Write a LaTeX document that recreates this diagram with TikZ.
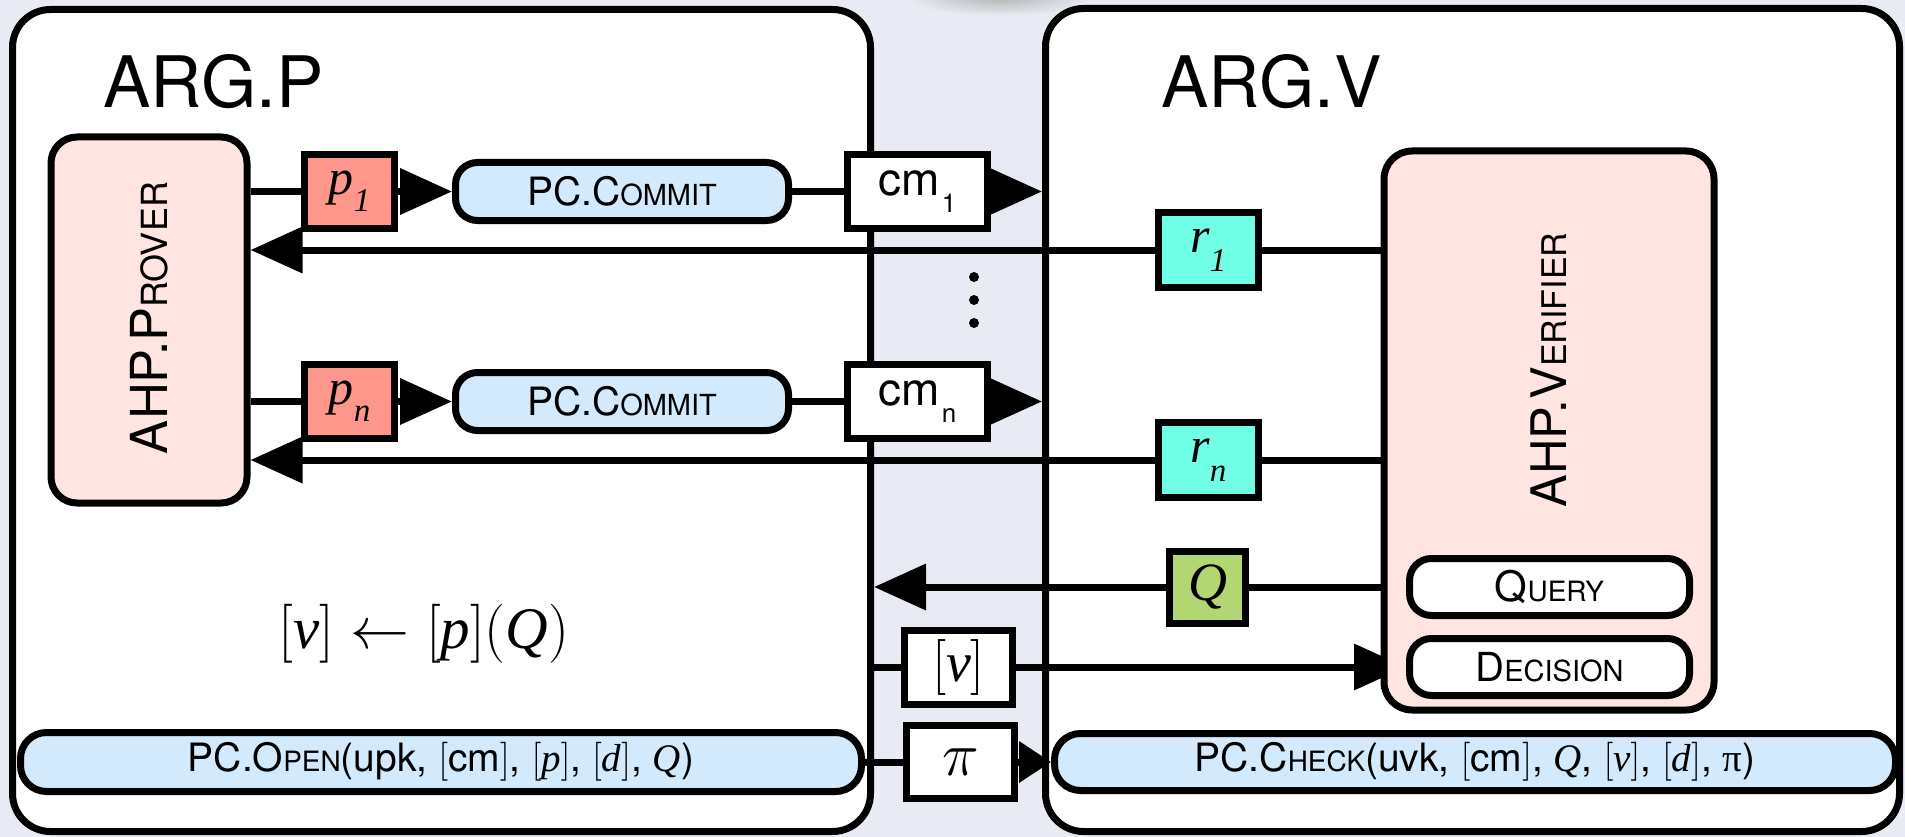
\RequirePackage{fix-cm}
\documentclass[tikz,border=0pt]{standalone}
\usepackage{fontspec}
\setmainfont{Liberation Serif}
\setsansfont{TeX Gyre Heros}
\usetikzlibrary{arrows.meta}
\pgfdeclarelayer{back}
\pgfdeclarelayer{mid}
\pgfsetlayers{back,mid,main}
\newcommand\scx[2]{{\fontsize{#1}{#1}\selectfont #2}}
\newcommand\ti[1]{{\rmfamily\itshape #1}}
\definecolor{bgc}{RGB}{232,235,243}
\definecolor{pinkc}{RGB}{255,229,226}
\definecolor{bluec}{RGB}{210,234,252}
\definecolor{salc}{RGB}{254,150,140}
\definecolor{aquac}{RGB}{112,255,230}
\definecolor{grnc}{RGB}{178,214,114}
\tikzset{
  panel/.style={draw, fill=white, line width=7pt, rounded corners=38pt, inner sep=0pt},
  box/.style={draw, line width=7pt, inner sep=0pt},
  sqbox/.style={box, minimum width=90pt, minimum height=74pt},
  wbox/.style={box, fill=white, minimum width=140pt, minimum height=74pt},
  pinkbox/.style={box, fill=pinkc, rounded corners=28pt},
  pill/.style={box, rounded corners=22pt, minimum height=58pt},
  conn/.style={line width=7pt},
  bigarr/.style={conn, -{Triangle[length=52pt,width=45pt]}},
  smallarr/.style={conn, -{Triangle[length=32pt,width=40pt]}},
  sf39/.style={font=\sffamily\fontsize{39}{39}\selectfont},
  it50/.style={font=\rmfamily\itshape\fontsize{50}{50}\selectfont},
}
\begin{document}
\begin{tikzpicture}[x=1pt,y=-1pt]
\begin{pgfonlayer}{back}
\path[use as bounding box, fill=bgc] (0,0) rectangle (1905,837);
\shade[inner color=black!30, outer color=bgc] (1000,-4) ellipse [x radius=95pt, y radius=20pt];
\node[panel, minimum width=858pt, minimum height=822pt] (lp) at (441.5,420.5) {};
\node[panel, minimum width=854pt, minimum height=823pt] (rp) at (1472.5,420) {};
\end{pgfonlayer}

\node[anchor=base west, font=\sffamily\fontsize{71}{71}\selectfont] (argp) at (100,108) {ARG.P};
\node[anchor=base west, font=\sffamily\fontsize{71}{71}\selectfont] (argv) at (1158,108) {ARG.V};

\node[pinkbox, rounded corners=26pt, minimum width=196pt, minimum height=366pt] (prov) at (149,320) {};
\node[rotate=90, font=\sffamily\fontsize{51}{51}\selectfont] (provl) at (149,318) {AHP.P\scx{36}{ROVER}};
\node[pinkbox, minimum width=330pt, minimum height=559pt] (ver) at (1549,430.5) {};
\node[rotate=90, font=\sffamily\fontsize{49}{49}\selectfont] (verl) at (1549,370) {AHP.V\scx{34}{ERIFIER}};

\node[sqbox, fill=salc, it50] (p1) at (349.5,191.5) {p\raisebox{-17pt}{\scx{33}{1}}};
\node[sqbox, fill=salc, it50] (pn) at (349.5,401.5) {p\raisebox{-17pt}{\scx{33}{n}}};
\node[pill, fill=bluec, minimum width=333pt, sf39] (c1) at (622,191.5) {PC.C\scx{29}{OMMIT}};
\node[pill, fill=bluec, minimum width=333pt, sf39] (cn) at (622,401.5) {PC.C\scx{29}{OMMIT}};
\node[wbox, font=\sffamily\fontsize{46}{46}\selectfont] (cm1) at (917.5,191.5) {cm\kern2pt\raisebox{-17pt}{\scx{26}{1}}};
\node[wbox, font=\sffamily\fontsize{46}{46}\selectfont] (cmn) at (917.5,401.5) {cm\kern2pt\raisebox{-17pt}{\scx{26}{n}}};
\node[sqbox, fill=aquac, minimum width=100pt, minimum height=75pt, it50] (r1) at (1208.5,250) {r\raisebox{-19pt}{\scx{33}{1}}};
\node[sqbox, fill=aquac, minimum width=100pt, minimum height=75pt, it50] (rn) at (1208.5,460) {r\raisebox{-19pt}{\scx{33}{n}}};
\node[sqbox, fill=grnc, minimum width=76pt, minimum height=72pt, font=\rmfamily\itshape\fontsize{54}{54}\selectfont] (q) at (1207.5,587) {Q};
\node[pill, fill=white, minimum width=280pt, minimum height=57pt, font=\sffamily\fontsize{42}{42}\selectfont] (query) at (1549.5,587) {Q\scx{28}{UERY}};
\node[pill, fill=white, minimum width=280pt, minimum height=57pt, font=\sffamily\fontsize{40}{40}\selectfont] (dec) at (1549.5,667) {D\scx{29}{ECISION}};
\node[wbox, minimum width=108pt, font=\rmfamily\fontsize{56}{56}\selectfont] (v) at (958.5,667) {$[$\ti{v}$]$};
\node[wbox, minimum width=108pt, minimum height=73pt, font=\rmfamily\fontsize{62}{62}\selectfont] (pi) at (960.5,762) {$\pi$};
\node[pill, fill=bluec, rounded corners=26pt, minimum width=841pt, minimum height=59pt, sf39] (open) at (441,762)
  {PC.O\scx{28}{PEN}(upk, $[$cm$]$, $[$\ti{p}$]$, $[$\ti{d}$]$, \ti{Q})};
\node[pill, fill=bluec, rounded corners=26pt, minimum width=841pt, minimum height=57pt, sf39] (check) at (1475,762)
  {PC.C\scx{28}{HECK}(uvk, $[$cm$]$, \ti{Q}, $[$\ti{v}$]$, $[$\ti{d}$]$, {\rmfamily π})};
\node[anchor=base, font=\rmfamily\fontsize{59}{59}\selectfont] (form) at (424,648) {$[$\ti{v}$]\leftarrow[$\ti{p}$]($\ti{Q}$)$};

\fill (974,277) circle [radius=5pt] (974,300) circle [radius=5pt] (974,323) circle [radius=5pt];

\begin{pgfonlayer}{mid}
\draw[conn] (prov.east |- p1) -- (p1.west);
\draw[bigarr] (p1.east) -- (c1.west);
\draw[conn] (c1.east) -- (cm1.west);
\draw[bigarr] (cm1.east) -- (cm1.east -| rp.west);
\draw[conn] (prov.east |- pn) -- (pn.west);
\draw[bigarr] (pn.east) -- (cn.west);
\draw[conn] (cn.east) -- (cmn.west);
\draw[bigarr] (cmn.east) -- (cmn.east -| rp.west);
\draw[conn] (r1 -| ver.west) -- (r1.east);
\draw[bigarr] (r1.west) -- (r1 -| prov.east);
\draw[conn] (rn -| ver.west) -- (rn.east);
\draw[bigarr] (rn.west) -- (rn -| prov.east);
\draw[conn] (query.west) -- (q.east);
\draw[bigarr] (q.west) -- (q -| lp.east);
\draw[conn] (v -| lp.east) -- (v.west);
\draw[bigarr] (v.east) -- (dec.west);
\draw[conn] (open.east) -- (pi.west);
\draw[smallarr] (pi.east) -- (check.west);
\end{pgfonlayer}
\end{tikzpicture}
\end{document}
